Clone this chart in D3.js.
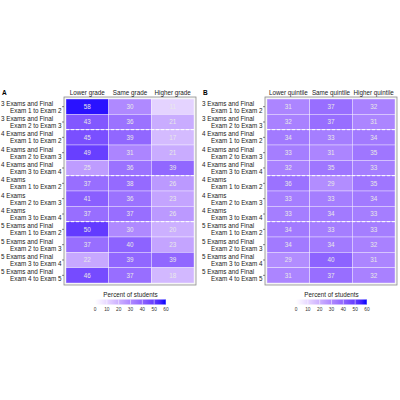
<!DOCTYPE html>
<html>
<head>
<meta charset="utf-8">
<script src="https://cdnjs.cloudflare.com/ajax/libs/d3/7.8.5/d3.min.js"></script>
<style>
  body { margin: 0; background: #fff; }
  text { font-family: "Liberation Sans", Arial, sans-serif; }
</style>
</head>
<body>
<div id="chart"></div>
<script>
var groups = ["3 Exams and Final", "3 Exams and Final", "4 Exams and Final", "4 Exams and Final",
  "4 Exams and Final", "4 Exams", "4 Exams", "4 Exams",
  "5 Exams and Final", "5 Exams and Final", "5 Exams and Final", "5 Exams and Final"];
var steps = ["Exam 1 to Exam 2", "Exam 2 to Exam 3", "Exam 1 to Exam 2", "Exam 2 to Exam 3",
  "Exam 3 to Exam 4", "Exam 1 to Exam 2", "Exam 2 to Exam 3", "Exam 3 to Exam 4",
  "Exam 1 to Exam 2", "Exam 2 to Exam 3", "Exam 3 to Exam 4", "Exam 4 to Exam 5"];
var colsA = ["Lower grade", "Same grade", "Higher grade"];
var colsB = ["Lower quintile", "Same quintile", "Higher quintile"];

var lowerA  = [58, 43, 45, 49, 25, 37, 41, 37, 50, 37, 22, 46];
var sameA   = [30, 36, 39, 31, 36, 38, 36, 37, 30, 40, 39, 37];
var higherA = [11, 21, 17, 21, 39, 26, 23, 26, 20, 23, 39, 18];

var lowerB  = [31, 32, 34, 33, 32, 36, 33, 33, 34, 34, 29, 31];
var sameB   = [37, 37, 33, 31, 35, 29, 33, 34, 33, 34, 40, 37];
var higherB = [32, 31, 34, 35, 33, 35, 34, 33, 33, 32, 31, 32];

var legendTicks = [0, 10, 20, 30, 40, 50, 60];
var groupBreaks = [2, 5, 8];  // dashed line after these rows

var width = 400, height = 400;
var svg = d3.select("#chart").append("svg")
    .attr("width", width)
    .attr("height", height);

var color = d3.scaleLinear()
    .domain([0, 60])
    .range(["#ffffff", "#0000ff"])
    .interpolate(d3.interpolateLab);

var rowKeys = d3.range(groups.length);
var y = d3.scaleBand()
    .domain(rowKeys)
    .range([99, 283]);

function panel(opts) {
  var g = svg.append("g");
  var x = d3.scaleBand()
      .domain(opts.cols)
      .range([opts.x0, opts.x1]);

  // panel border
  g.append("rect")
      .attr("x", opts.x0 - 2)
      .attr("y", 97)
      .attr("width", opts.x1 - opts.x0 + 4)
      .attr("height", 188)
      .attr("fill", "#f4f4f4")
      .attr("stroke", "#8c8c8c")
      .attr("stroke-width", 0.8);

  var cells = [];
  opts.series.forEach(function(s, j) {
    s.forEach(function(v, i) {
      cells.push({row: i, col: opts.cols[j], value: v});
    });
  });

  g.selectAll(".tile")
      .data(cells)
    .enter().append("rect")
      .attr("class", "tile")
      .attr("x", function(d) { return x(d.col); })
      .attr("y", function(d) { return y(d.row); })
      .attr("width", x.bandwidth())
      .attr("height", y.bandwidth())
      .attr("fill", function(d) { return color(d.value); })
      .attr("stroke", "#ffffff")
      .attr("stroke-opacity", 0.6)
      .attr("stroke-width", 0.6);

  g.selectAll(".val")
      .data(cells)
    .enter().append("text")
      .attr("x", function(d) { return x(d.col) + x.bandwidth() / 2; })
      .attr("y", function(d) { return y(d.row) + y.bandwidth() / 2 + 2.2; })
      .attr("text-anchor", "middle")
      .attr("font-size", "6.3px")
      .attr("fill", "#e8e8e8")
      .text(function(d) { return d.value; });

  // dashed group separators
  g.selectAll(".sep")
      .data(groupBreaks)
    .enter().append("line")
      .attr("x1", opts.x0)
      .attr("x2", opts.x1)
      .attr("y1", function(d) { return y(d); })
      .attr("y2", function(d) { return y(d); })
      .attr("stroke", "#ffffff")
      .attr("stroke-width", 1)
      .attr("stroke-dasharray", "3,2");

  // column headers
  g.selectAll(".colhead")
      .data(opts.cols)
    .enter().append("text")
      .attr("x", function(d) { return x(d) + x.bandwidth() / 2; })
      .attr("y", 94.5)
      .attr("text-anchor", "middle")
      .attr("font-size", "6.3px")
      .attr("fill", "#1a1a1a")
      .text(function(d) { return d; });

  // row labels
  var lab = g.selectAll(".rowlab")
      .data(rowKeys)
    .enter().append("g");
  lab.append("text")
      .attr("x", opts.lx)
      .attr("y", function(d) { return y(d) + y.bandwidth() / 2 - 1; })
      .attr("font-size", "6.3px")
      .attr("fill", "#1a1a1a")
      .text(function(d) { return groups[d]; });
  lab.append("text")
      .attr("x", opts.x0 - 4.5)
      .attr("y", function(d) { return y(d) + y.bandwidth() / 2 + 6; })
      .attr("text-anchor", "end")
      .attr("font-size", "6.3px")
      .attr("fill", "#1a1a1a")
      .text(function(d) { return steps[d]; });
  lab.append("line")
      .attr("x1", opts.x0 - 4)
      .attr("x2", opts.x0 - 2)
      .attr("y1", function(d) { return y(d) + y.bandwidth() / 2; })
      .attr("y2", function(d) { return y(d) + y.bandwidth() / 2; })
      .attr("stroke", "#333")
      .attr("stroke-width", 0.6);

  // panel tag
  g.append("text")
      .attr("x", opts.lx + 1)
      .attr("y", 95)
      .attr("font-size", "6.5px")
      .attr("font-weight", "bold")
      .text(opts.tag);

  // legend
  var lx = d3.scaleLinear().domain([0, 60]).range([opts.l0, opts.l1]);
  var gradId = "grad" + opts.tag;
  var grad = svg.append("defs").append("linearGradient")
      .attr("id", gradId);
  d3.range(0, 61, 5).forEach(function(v) {
    grad.append("stop")
        .attr("offset", (v / 60 * 100) + "%")
        .attr("stop-color", color(v));
  });
  var lg = g.append("g");
  lg.append("text")
      .attr("x", (opts.l0 + opts.l1) / 2)
      .attr("y", 297)
      .attr("text-anchor", "middle")
      .attr("font-size", "6.3px")
      .attr("fill", "#1a1a1a")
      .text("Percent of students");
  lg.append("rect")
      .attr("x", opts.l0)
      .attr("y", 299.5)
      .attr("width", opts.l1 - opts.l0)
      .attr("height", 5)
      .attr("fill", "url(#" + gradId + ")");
  lg.selectAll(".lt")
      .data(legendTicks)
    .enter().append("line")
      .attr("x1", function(d) { return lx(d); })
      .attr("x2", function(d) { return lx(d); })
      .attr("y1", 299.5)
      .attr("y2", 304.5)
      .attr("stroke", "#ffffff")
      .attr("stroke-width", 0.5);
  lg.selectAll(".ll")
      .data(legendTicks)
    .enter().append("text")
      .attr("x", function(d) { return lx(d); })
      .attr("y", 311)
      .attr("text-anchor", "middle")
      .attr("font-size", "4.8px")
      .attr("fill", "#333")
      .text(function(d) { return d; });
}

panel({tag: "A", cols: colsA, series: [lowerA, sameA, higherA],
  x0: 66, x1: 194, lx: 1, l0: 95, l1: 166});
panel({tag: "B", cols: colsB, series: [lowerB, sameB, higherB],
  x0: 267, x1: 395, lx: 202, l0: 296, l1: 367});
</script>
</body>
</html>
